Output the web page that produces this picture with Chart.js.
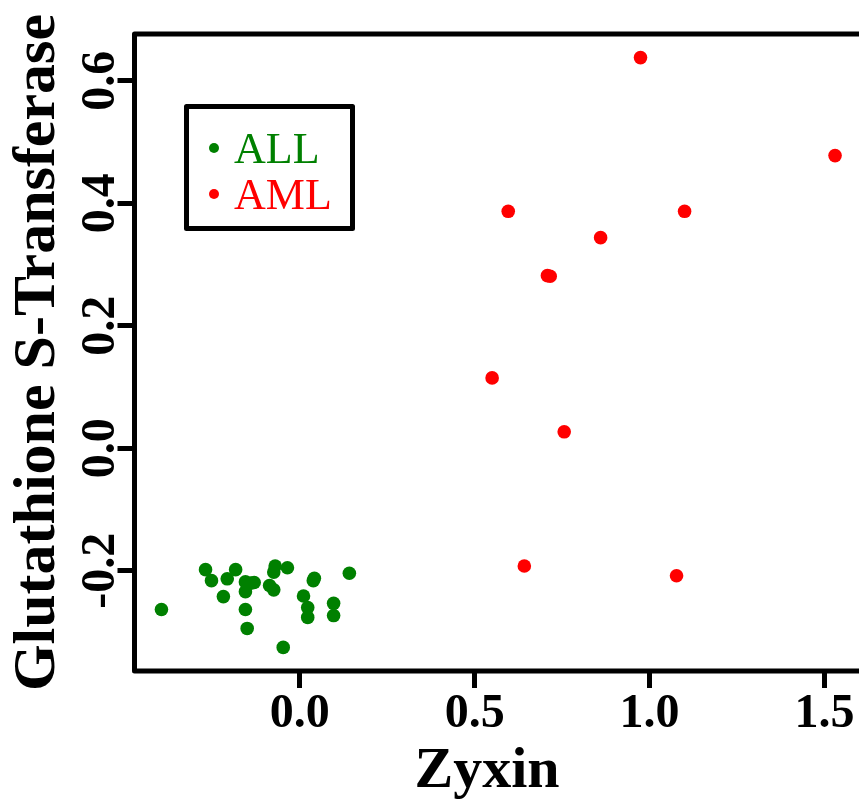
<!DOCTYPE html>
<html>
<head>
<meta charset="utf-8">
<script src="https://cdn.jsdelivr.net/npm/chart.js@4"></script>
<style>
  html, body { margin: 0; padding: 0; background: #fff; overflow: hidden; }
  #wrap { width: 875px; height: 801px; }
</style>
</head>
<body>
<div id="wrap"><canvas id="chart" width="875" height="801"></canvas></div>
<script>
// Zyxin (x) vs Glutathione S-Transferase (y)
const allZyxin = [-0.269, -0.252, -0.183, -0.207, -0.218, -0.395, -0.155, -0.130, -0.155, -0.155, -0.150, -0.070, -0.074, -0.035, -0.086, -0.074, -0.047, 0.011, 0.023, 0.023, 0.039, 0.097, 0.097, 0.142, -0.140, 0.042];
const allGST   = [-0.198, -0.216, -0.198, -0.213, -0.242, -0.263, -0.218, -0.219, -0.234, -0.263, -0.294, -0.192, -0.202, -0.195, -0.224, -0.231, -0.325, -0.241, -0.260, -0.276, -0.216, -0.253, -0.273, -0.204, -0.220, -0.212];
const amlZyxin = [0.974, 1.530, 0.596, 1.100, 0.860, 0.708, 0.716, 0.550, 0.756, 0.642, 1.077];
const amlGST   = [0.638, 0.478, 0.387, 0.387, 0.344, 0.282, 0.281, 0.115, 0.027, -0.192, -0.208];

const xTicks = [0, 0.5, 1.0, 1.5];
const yTicks = [-0.2, 0.0, 0.2, 0.4, 0.6];
const groupNames = ['ALL', 'AML'];
const groupColors = ['#008000', '#ff0000'];
const xTitle = 'Zyxin';
const yTitle = 'Glutathione S-Transferase';

const serif = '"Liberation Serif", "Times New Roman", serif';
const toPoints = (xs, ys) => xs.map((x, i) => ({ x: x, y: ys[i] }));

// box around the plot area, rotated y tick labels, x title, legend inside the plot
const boxPlugin = {
    id: 'boxPlugin',
    afterDraw(chart) {
        const ctx = chart.ctx;
        const a = chart.chartArea;
        ctx.save();
        ctx.strokeStyle = '#000';
        ctx.lineWidth = 5;
        ctx.lineJoin = 'round';
        ctx.strokeRect(a.left, a.top, a.right - a.left, a.bottom - a.top);

        // y tick labels, parallel to the axis
        const ys = chart.scales.y;
        ctx.fillStyle = '#000';
        ctx.font = 'bold 48px ' + serif;
        ctx.textAlign = 'center';
        ctx.textBaseline = 'middle';
        yTicks.forEach(v => {
            ctx.save();
            ctx.translate(102, ys.getPixelForValue(v));
            ctx.rotate(-Math.PI / 2);
            ctx.fillText(v.toFixed(1), 0, 0);
            ctx.restore();
        });

        // x axis title
        ctx.font = 'bold 58px ' + serif;
        ctx.textBaseline = 'alphabetic';
        ctx.fillText(xTitle, 487, 787);

        // legend
        ctx.lineWidth = 5;
        ctx.strokeRect(186.5, 106.5, 166, 122);
        ctx.font = '44px ' + serif;
        ctx.textAlign = 'left';
        groupNames.forEach((name, i) => {
            const cy = 148 + i * 46;
            ctx.fillStyle = groupColors[i];
            ctx.beginPath();
            ctx.arc(214, cy, 5, 0, Math.PI * 2);
            ctx.fill();
            ctx.fillText(name, 234, cy + 15);
        });
        ctx.restore();
    }
};

new Chart(document.getElementById('chart'), {
    type: 'scatter',
    data: {
        datasets: [
            {
                label: groupNames[0],
                data: toPoints(allZyxin, allGST),
                backgroundColor: groupColors[0],
                borderWidth: 0,
                pointRadius: 6.8
            },
            {
                label: groupNames[1],
                data: toPoints(amlZyxin, amlGST),
                backgroundColor: groupColors[1],
                borderWidth: 0,
                pointRadius: 6.8
            }
        ]
    },
    options: {
        responsive: false,
        animation: false,
        layout: { padding: { top: 34, right: 13, left: 0, bottom: 0 } },
        plugins: {
            legend: { display: false },
            tooltip: { enabled: false }
        },
        scales: {
            x: {
                type: 'linear',
                min: -0.472,
                max: 1.607,
                afterBuildTicks: scale => { scale.ticks = xTicks.map(v => ({ value: v })); },
                afterFit: scale => { scale.height = 130; },
                border: { display: false },
                grid: { drawOnChartArea: false, drawTicks: true, tickLength: 17, lineWidth: 5, color: '#000' },
                ticks: {
                    color: '#000',
                    padding: 0,
                    font: { family: serif, size: 48, weight: 'bold', lineHeight: 1.1 },
                    callback: v => Number(v).toFixed(1)
                },
                title: { display: false }
            },
            y: {
                type: 'linear',
                min: -0.3635,
                max: 0.6765,
                afterBuildTicks: scale => { scale.ticks = yTicks.map(v => ({ value: v })); },
                afterFit: scale => { scale.width = 134.5; },
                border: { display: false },
                grid: { drawOnChartArea: false, drawTicks: true, tickLength: 17, lineWidth: 5, color: '#000' },
                ticks: { display: false },
                title: {
                    display: true,
                    text: yTitle,
                    color: '#000',
                    padding: { top: 2, bottom: 0 },
                    font: { family: serif, size: 60, weight: 'bold', lineHeight: 1.2 }
                }
            }
        }
    },
    plugins: [boxPlugin]
});
</script>
</body>
</html>
